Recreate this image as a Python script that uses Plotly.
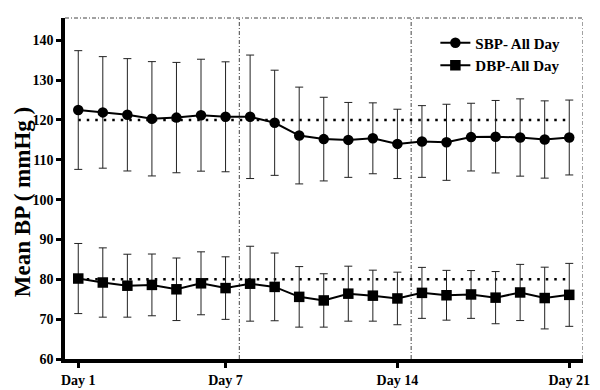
import plotly.graph_objects as go

days = list(range(1, 22))
tick_vals = [1, 7, 14, 21]
tick_text = ["Day 1", "Day 7", "Day 14", "Day 21"]
y_ticks = [60, 70, 80, 90, 100, 110, 120, 130, 140]

sbp_mean = [122.5, 121.9, 121.3, 120.3, 120.6, 121.2, 120.8, 120.8, 119.3, 116.1, 115.2,
            115.0, 115.4, 114.0, 114.6, 114.4, 115.7, 115.8, 115.6, 115.1, 115.6]
sbp_sd = [14.9, 14.0, 14.1, 14.35, 13.85, 14.05, 13.8, 15.5, 13.2, 12.15, 10.5,
          9.4, 8.9, 8.7, 9.0, 9.55, 8.5, 9.1, 9.7, 9.7, 9.4]

dbp_mean = [80.2, 79.2, 78.4, 78.6, 77.5, 79.0, 77.8, 78.9, 78.1, 75.6, 74.7,
            76.4, 75.9, 75.2, 76.6, 76.0, 76.2, 75.4, 76.7, 75.3, 76.1]
dbp_sd = [8.8, 8.7, 7.9, 7.75, 7.85, 7.9, 7.85, 9.4, 8.5, 7.6, 6.7,
          6.9, 6.4, 6.6, 6.4, 6.25, 6.0, 6.55, 7.05, 7.75, 7.9]

ref_levels = [120, 80]
week_breaks = [7.56, 14.56, 21.56]
x_range = [0.46, 21.56]
y_range = [60, 145.6]

font_family = "Liberation Serif, Times New Roman, serif"

fig = go.Figure()

fig.add_trace(go.Scatter(
    x=days, y=sbp_mean, name="SBP- All Day", mode="lines+markers",
    line=dict(color="black", width=2),
    marker=dict(symbol="circle", size=10.5, color="black"),
    error_y=dict(type="data", array=sbp_sd, visible=True, color="#222", thickness=1, width=4),
))
fig.add_trace(go.Scatter(
    x=days, y=dbp_mean, name="DBP-All Day", mode="lines+markers",
    line=dict(color="black", width=2),
    marker=dict(symbol="square", size=10.5, color="black"),
    error_y=dict(type="data", array=dbp_sd, visible=True, color="#222", thickness=1, width=4),
))

shapes = []
for lv in ref_levels:
    shapes.append(dict(type="line", xref="x", yref="y", x0=days[0], x1=days[-1], y0=lv, y1=lv,
                       line=dict(color="black", width=2.5, dash="2.5px,6px"), layer="below"))
for xb in week_breaks:
    shapes.append(dict(type="line", xref="x", yref="paper", x0=xb, x1=xb, y0=0, y1=1,
                       line=dict(color="#444", width=1, dash="4px,2px,1px,2px"), layer="below"))
shapes.append(dict(type="line", xref="paper", yref="paper", x0=0, x1=1, y0=1, y1=1,
                   line=dict(color="#444", width=1, dash="4px,2px,1px,2px"), layer="below"))

fig.update_layout(
    width=600, height=390,
    margin=dict(l=65, r=17, t=17.5, b=31, pad=0),
    paper_bgcolor="white", plot_bgcolor="white",
    font=dict(family=font_family, color="black", size=14, weight="bold"),
    showlegend=True,
    legend=dict(x=0.715, y=0.975, xanchor="left", yanchor="top",
                bgcolor="rgba(0,0,0,0)", font=dict(size=15, family=font_family, weight="bold"),
                tracegroupgap=0, itemwidth=30),
    shapes=shapes,
    annotations=[dict(text="Mean BP ( mmHg )", xref="paper", yref="paper",
                      x=-0.083, y=0.46, xanchor="center", yanchor="middle", textangle=-90,
                      showarrow=False, font=dict(size=23, family=font_family, weight="bold"))],
    xaxis=dict(range=x_range, tickvals=tick_vals, ticktext=tick_text, automargin=False,
               showgrid=False, zeroline=False, showline=True, linecolor="black", linewidth=3.5,
               ticks="outside", ticklen=5, tickwidth=3, tickcolor="black",
               tickfont=dict(size=14, family=font_family, weight="bold")),
    yaxis=dict(range=y_range, tickvals=y_ticks, automargin=False,
               showgrid=False, zeroline=False, showline=True, linecolor="black", linewidth=3.5,
               ticks="outside", ticklen=5, tickwidth=3, tickcolor="black",
               tickfont=dict(size=14, family=font_family, weight="bold")),
)

fig.write_html("out.html", config={"displayModeBar": False},
               post_script="document.body.style.margin='0px';document.body.style.overflow='hidden';")
